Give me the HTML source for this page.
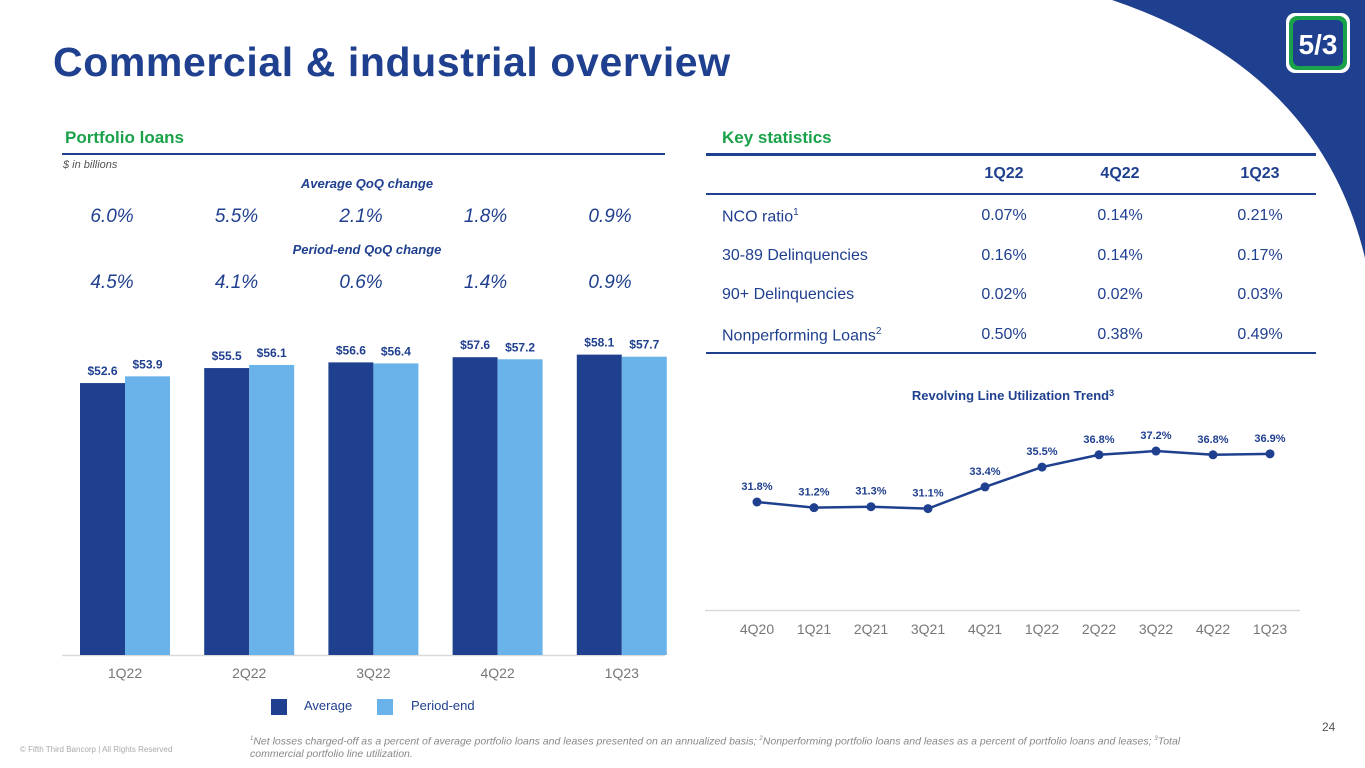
<!DOCTYPE html>
<html><head><meta charset="utf-8"><style>
body{margin:0;width:1365px;height:768px;overflow:hidden;background:#fff;font-family:"Liberation Sans",sans-serif;position:relative}
.a{position:absolute;white-space:nowrap}
.navy{color:#1f3f8f}
.green{color:#1aa24a}
.qoq{font-style:italic;font-size:19px;color:#1f3f8f;width:100px;text-align:center}
.sub{font-style:italic;font-weight:bold;font-size:13px;color:#1f3f8f;width:300px;text-align:center}
.cell{font-size:16px;color:#1f3f8f;width:100px;text-align:center}
.lab{font-size:16px;color:#1f3f8f}
</style></head><body>
<svg class="a" style="left:0;top:0" width="1365" height="768">
<path d="M1112,0 Q1320,70 1365,258 L1365,0 Z" fill="#1f3f8f"/>
<rect x="1286" y="13" width="64" height="60" rx="9" fill="#fff"/>
<rect x="1289" y="16" width="58" height="54" rx="8" fill="#1aa24a"/>
<rect x="1293" y="20" width="50" height="46" rx="6" fill="#1f3f8f"/>
<text x="1318" y="54" font-size="28" font-weight="bold" fill="#fff" text-anchor="middle" font-family="Liberation Sans">5/3</text>
</svg>
<div class="a navy" style="left:53px;top:39px;font-size:41px;font-weight:bold;letter-spacing:0.6px">Commercial &amp; industrial overview</div>
<div class="a green" style="left:65px;top:128px;font-size:17px;font-weight:bold">Portfolio loans</div>
<div class="a" style="left:62px;top:153px;width:603px;height:2px;background:#1f3f8f"></div>
<div class="a" style="left:63px;top:159px;font-size:11px;font-style:italic;color:#555">$ in billions</div>
<div class="a sub" style="left:217px;top:176px">Average QoQ change</div>
<div class="a sub" style="left:217px;top:242px">Period-end QoQ change</div>
<div id="qoq"></div>
<div class="a green" style="left:722px;top:128px;font-size:17px;font-weight:bold">Key statistics</div>
<div class="a" style="left:706px;top:153px;width:610px;height:3px;background:#1f3f8f"></div>
<div class="a" style="left:706px;top:193px;width:610px;height:2px;background:#1f3f8f"></div>
<div class="a" style="left:706px;top:352px;width:610px;height:2px;background:#1f3f8f"></div>
<div class="a cell" style="left:954px;top:165px;font-weight:bold">1Q22</div>
<div class="a cell" style="left:1070px;top:165px;font-weight:bold">4Q22</div>
<div class="a cell" style="left:1210px;top:165px;font-weight:bold">1Q23</div>
<div id="tbl"></div>
<svg class="a" style="left:0;top:0" width="1365" height="768" id="charts"></svg>
<div class="a" style="left:271px;top:699px;width:16px;height:16px;background:#1f3f8f"></div>
<div class="a lab" style="left:304px;top:698px;font-size:13px">Average</div>
<div class="a" style="left:377px;top:699px;width:16px;height:16px;background:#69b2ea"></div>
<div class="a lab" style="left:411px;top:698px;font-size:13px">Period-end</div>
<div class="a" style="left:1322px;top:720px;font-size:12px;color:#555">24</div>
<div class="a" style="left:20px;top:745px;font-size:8px;color:#aaa">© Fifth Third Bancorp | All Rights Reserved</div>
<div class="a" style="left:250px;top:733px;font-size:10.5px;font-style:italic;color:#888;line-height:12px;white-space:normal;width:975px"><sup style="font-size:6px">1</sup>Net losses charged-off as a percent of average portfolio loans and leases presented on an annualized basis; <sup style="font-size:6px">2</sup>Nonperforming portfolio loans and leases as a percent of portfolio loans and leases; <sup style="font-size:6px">3</sup>Total commercial portfolio line utilization.</div>
<script>
const qtrs=["1Q22","2Q22","3Q22","4Q22","1Q23"];
const avgVals=[52.6,55.5,56.6,57.6,58.1];
const peVals=[53.9,56.1,56.4,57.2,57.7];
const avgQoq=["6.0%","5.5%","2.1%","1.8%","0.9%"];
const peQoq=["4.5%","4.1%","0.6%","1.4%","0.9%"];
const rowNames=["NCO ratio<sup>1</sup>","30-89 Delinquencies","90+ Delinquencies","Nonperforming Loans<sup>2</sup>"];
const col1Q22=["0.07%","0.16%","0.02%","0.50%"];
const col4Q22=["0.14%","0.14%","0.02%","0.38%"];
const col1Q23=["0.21%","0.17%","0.03%","0.49%"];
const lineCats=["4Q20","1Q21","2Q21","3Q21","4Q21","1Q22","2Q22","3Q22","4Q22","1Q23"];
const lineVals=[31.8,31.2,31.3,31.1,33.4,35.5,36.8,37.2,36.8,36.9];
const NS="http://www.w3.org/2000/svg";
const svg=document.getElementById('charts');
function mk(t,a,p){const e=document.createElementNS(NS,t);for(const k in a)e.setAttribute(k,a[k]);(p||svg).appendChild(e);return e;}
const qd=document.getElementById('qoq');
avgQoq.forEach((v,i)=>{const d=document.createElement('div');d.className='a qoq';d.style.left=(62+i*124.5)+'px';d.style.top='206px';d.textContent=v;

qd.appendChild(d);});
peQoq.forEach((v,i)=>{const d=document.createElement('div');d.className='a qoq';d.style.left=(62+i*124.5)+'px';d.style.top='272px';d.textContent=v;

qd.appendChild(d);});
const td=document.getElementById('tbl');
rowNames.forEach((n,i)=>{const y=207+i*39.5;
const l=document.createElement('div');l.className='a lab';l.style.left='722px';l.style.top=y+'px';l.innerHTML=n.replace('<sup>','<sup style="font-size:10px">');

td.appendChild(l);
[[col1Q22,954],[col4Q22,1070],[col1Q23,1210]].forEach(([c,x])=>{const d=document.createElement('div');d.className='a cell';d.style.left=x+'px';d.style.top=y+'px';d.textContent=c[i];

td.appendChild(d);});});
const base=655,k=5.17;
const yB=v=>base-v*k;
const cx=i=>125+i*124.2;
mk('line',{x1:62,x2:665,y1:655.5,y2:655.5,stroke:'#d9d9d9','stroke-width':1.5});
qtrs.forEach((q,i)=>{
 const r1=mk('rect',{x:cx(i)-45,y:yB(avgVals[i]),width:45,height:avgVals[i]*k,fill:'#1f3f8f'});
 
 
 const r2=mk('rect',{x:cx(i),y:yB(peVals[i]),width:45,height:peVals[i]*k,fill:'#69b2ea'});
 
 
 const t1=mk('text',{x:cx(i)-22.5,y:yB(avgVals[i])-8,'text-anchor':'middle','font-size':12,'font-weight':'bold',fill:'#1f3f8f'});t1.textContent='$'+avgVals[i].toFixed(1);
 
 
 const t2=mk('text',{x:cx(i)+22.5,y:yB(peVals[i])-8,'text-anchor':'middle','font-size':12,'font-weight':'bold',fill:'#1f3f8f'});t2.textContent='$'+peVals[i].toFixed(1);
 
 
 const t3=mk('text',{x:cx(i),y:678,'text-anchor':'middle','font-size':14,fill:'#777'});t3.textContent=q;
 
 
});
const lt=mk('text',{x:1013,y:400,'text-anchor':'middle','font-size':13,'font-weight':'bold',fill:'#1f3f8f'});lt.innerHTML='Revolving Line Utilization Trend<tspan font-size="9" dy="-4">3</tspan>';


const lx=i=>757+i*57;
const ly=v=>502-(v-31.8)*9.44;
mk('line',{x1:705,x2:1300,y1:610.5,y2:610.5,stroke:'#d9d9d9','stroke-width':1.5});
const pl=mk('polyline',{points:lineVals.map((v,i)=>lx(i)+','+ly(v)).join(' '),fill:'none',stroke:'#1f3f8f','stroke-width':2.5});


lineCats.forEach((c,i)=>{
 const p=mk('circle',{cx:lx(i),cy:ly(lineVals[i]),r:4.5,fill:'#1f3f8f'});
 
 
 const t=mk('text',{x:lx(i),y:ly(lineVals[i])-12,'text-anchor':'middle','font-size':11,'font-weight':'bold',fill:'#1f3f8f'});t.textContent=lineVals[i].toFixed(1)+'%';
 
 
 const x=mk('text',{x:lx(i),y:634,'text-anchor':'middle','font-size':14,fill:'#777'});x.textContent=c;
 
 
});
</script>
</body></html>
